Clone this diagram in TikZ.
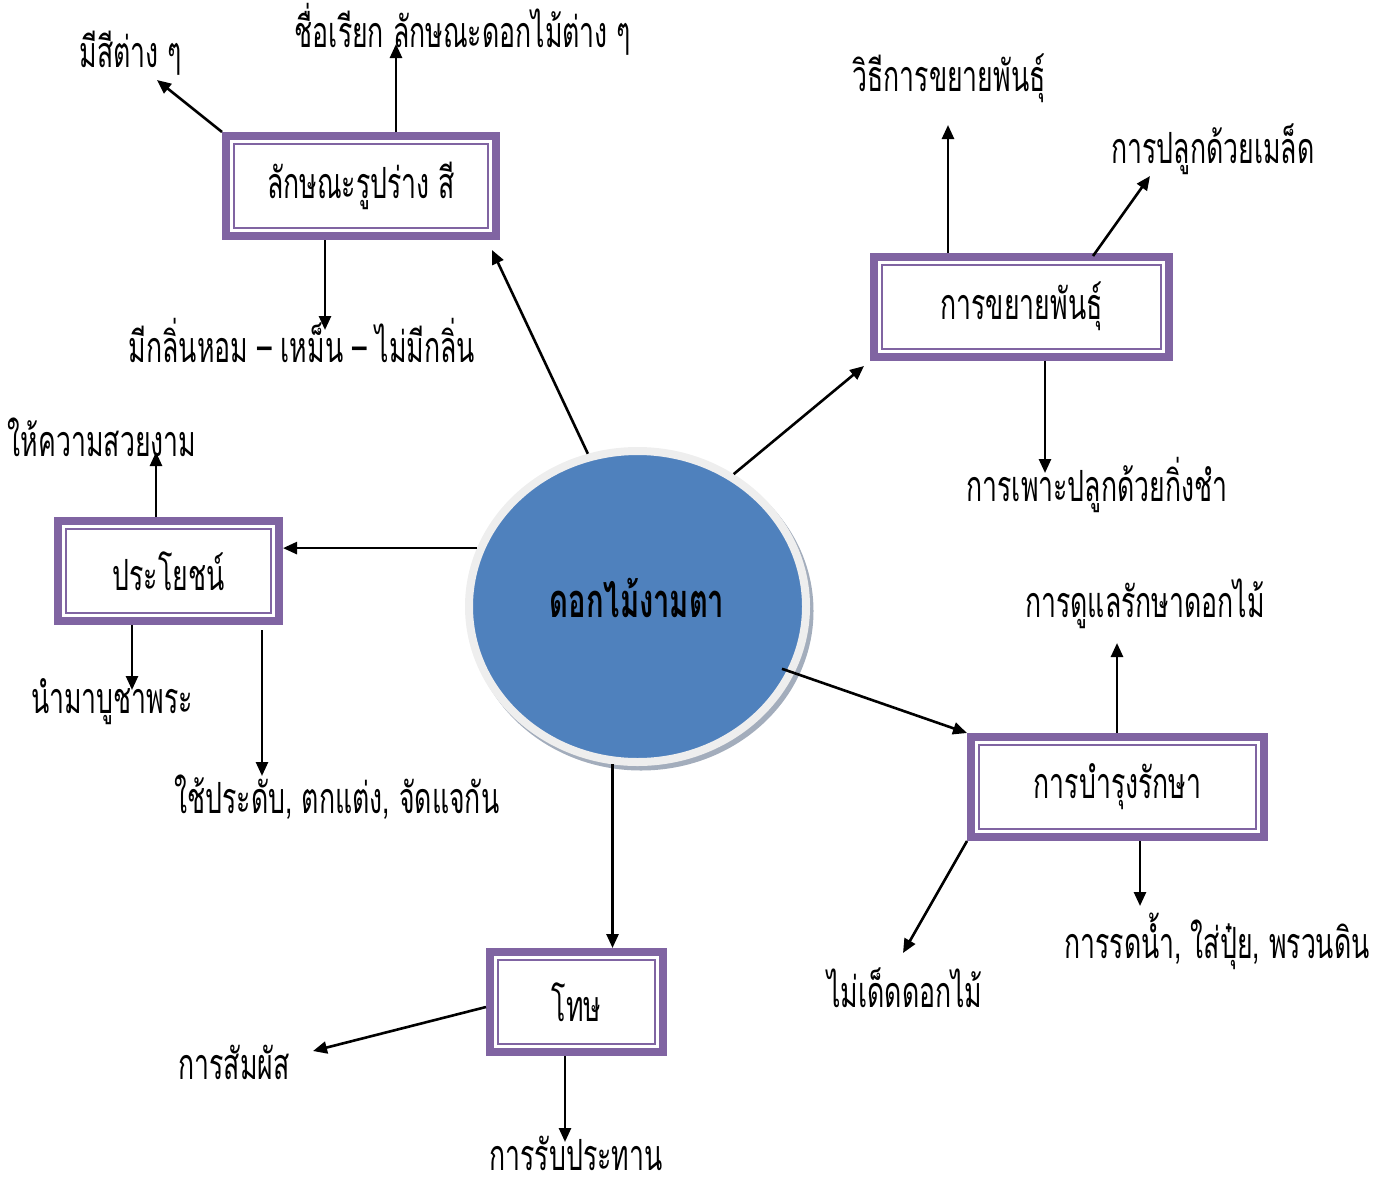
\documentclass[tikz,border=0pt]{standalone}
\usepackage{fontspec}
\usetikzlibrary{arrows.meta,shapes.geometric}
\newfontfamily\thai[Script=Thai,FakeStretch=0.62]{Loma}
\definecolor{purp}{HTML}{8064A2}
\definecolor{cblue}{HTML}{4F81BD}
\definecolor{ringg}{HTML}{EEEEEE}
\definecolor{shad}{HTML}{A3ADBC}
\tikzset{
  pbox/.style={rectangle, draw=purp, line width=8pt, fill=white, inner sep=0pt,
    minimum height=100pt, font=\thai\fontsize{43}{46}\selectfont},
  ibox/.style={rectangle, draw=purp, line width=2pt, inner sep=0pt,
    minimum height=84pt},
  lbl/.style={inner sep=0pt, yshift=4pt, font=\thai\fontsize{43}{46}\selectfont},
  arr/.style={line width=2.6pt, -{Triangle[length=14pt,width=12pt]}},
}
\begin{document}
\begin{tikzpicture}[x=1pt,y=-1pt]
\useasboundingbox (0,0) rectangle (1386,1178);
% central circle
\fill[shad] (641,611) ellipse [x radius=172.5, y radius=159.5];
\node[ellipse, draw=ringg, line width=8pt, fill=cblue, inner sep=0pt,
  minimum width=337pt, minimum height=311pt] (C) at (637.5,606.5) {};
\node[lbl, yshift=1pt, font=\thai\bfseries\fontsize{47}{50}\selectfont] (Ct) at (637,603) {ดอกไม้งามตา};
% boxes
\node[pbox, minimum width=270pt] (B1) at (361,186) {ลักษณะรูปร่าง สี};
\node[pbox, minimum width=295pt] (B2) at (1021.5,306.5) {การขยายพันธุ์};
\node[pbox, minimum width=221pt] (B3) at (168.5,571) {ประโยชน์};
\node[pbox, minimum width=293pt] (B4) at (1117.5,787) {การบำรุงรักษา};
\node[pbox, minimum width=173pt] (B5) at (576.5,1002) {โทษ};
% inner thin frames
\node[ibox, minimum width=254pt] (B1i) at (B1.center) {};
\node[ibox, minimum width=279pt] (B2i) at (B2.center) {};
\node[ibox, minimum width=205pt] (B3i) at (B3.center) {};
\node[ibox, minimum width=277pt] (B4i) at (B4.center) {};
\node[ibox, minimum width=157pt] (B5i) at (B5.center) {};
% labels
\node[lbl] (t1) at (131,57) {มีสีต่าง ๆ};
\node[lbl] (t2) at (463,33) {ชื่อเรียก ลักษณะดอกไม้ต่าง ๆ};
\node[lbl] (t3) at (302,345) {มีกลิ่นหอม – เหม็น – ไม่มีกลิ่น};
\node[lbl] (t4) at (949,82) {วิธีการขยายพันธุ์};
\node[lbl] (t5) at (1213,153) {การปลูกด้วยเมล็ด};
\node[lbl] (t6) at (1097,489) {การเพาะปลูกด้วยกิ่งชำ};
\node[lbl] (t7) at (102,441) {ให้ความสวยงาม};
\node[lbl] (t8) at (112,706) {นำมาบูชาพระ};
\node[lbl] (t9) at (337,801) {ใช้ประดับ, ตกแต่ง, จัดแจกัน};
\node[lbl] (t10) at (1145,608) {การดูแลรักษาดอกไม้};
\node[lbl] (t11) at (905,992) {ไม่เด็ดดอกไม้};
\node[lbl] (t12) at (1217,945) {การรดน้ำ, ใส่ปุ๋ย, พรวนดิน};
\node[lbl] (t13) at (234,1066) {การสัมผัส};
\node[lbl] (t14) at (576,1157) {การรับประทาน};
% arrow tips
\coordinate (k1) at (492,250);
\coordinate (k2) at (864,366);
\coordinate (p1) at (157,80);
\coordinate (p2) at (396,44);
\coordinate (p3) at (325,330);
\coordinate (p4) at (948,125);
\coordinate (p5s) at (1093,256);
\coordinate (p5) at (1150,176);
\coordinate (p6) at (1045,473);
\coordinate (p7) at (156,452);
\coordinate (p8) at (132,690);
\coordinate (p9) at (262,776);
\coordinate (p10) at (1117,643);
\coordinate (p11) at (903,953);
\coordinate (p12) at (1140,906);
\coordinate (p13) at (313,1051);
\coordinate (p14) at (565,1142);
% circle connectors
\draw[arr] (C.108) -- (k1);
\draw[arr] (C.54) -- (k2);
\draw[arr] (C.160) -- (C.160 -| B3.east);
\draw[arr, shorten <=-13pt] (C.337) -- (B4.north west);
\draw[arr] (C.261) -- (C.261 |- B5.north);
% box connectors
\draw[arr] (B1.north west) -- (p1);
\draw[arr] (B1.north -| p2) -- (p2);
\draw[arr] (B1.south -| p3) -- (p3);
\draw[arr] (B2.north -| p4) -- (p4);
\draw[arr] (p5s) -- (p5);
\draw[arr] (B2.south -| p6) -- (p6);
\draw[arr] (B3.north -| p7) -- (p7);
\draw[arr] (B3.south -| p8) -- (p8);
\draw[arr, shorten <=5pt] (B3.south -| p9) -- (p9);
\draw[arr] (B4.north -| p10) -- (p10);
\draw[arr] (B4.south west) -- (p11);
\draw[arr] (B4.south -| p12) -- (p12);
\draw[arr] ([shift={(0,5)}]B5.west) -- (p13);
\draw[arr] (B5.south -| p14) -- (p14);
\end{tikzpicture}
\end{document}
